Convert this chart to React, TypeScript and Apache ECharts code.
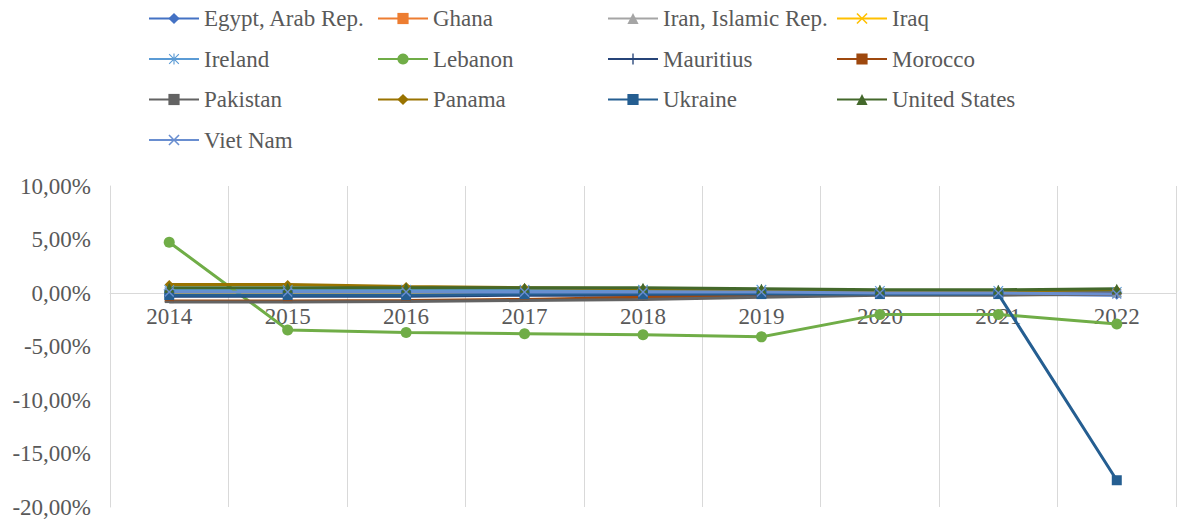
import React, { useEffect, useRef } from "react";
import * as echarts from "echarts";

const years = ["2014", "2015", "2016", "2017", "2018", "2019", "2020", "2021", "2022"];
const yTicks = { min: -20, max: 10, interval: 5 };

const egypt = [0.0, -0.1, -0.1, 0.0, 0.0, 0.0, -0.1, -0.1, -0.2];
const ghana = [-0.2, -0.2, -0.2, -0.1, -0.1, -0.1, 0.0, 0.0, 0.0];
const iran = [-0.1, -0.1, -0.1, -0.1, -0.1, -0.1, 0.0, 0.0, 0.0];
const iraq = [0.0, 0.0, 0.0, 0.0, 0.0, 0.0, 0.0, 0.0, 0.0];
const ireland = [0.3, 0.3, 0.3, 0.3, 0.3, 0.3, 0.2, 0.2, 0.1];
const lebanon = [4.75, -3.45, -3.7, -3.8, -3.9, -4.1, -2.0, -2.0, -2.9];
const mauritius = [-0.3, -0.3, -0.3, -0.2, -0.2, -0.1, 0.0, 0.0, 0.0];
const morocco = [-0.75, -0.75, -0.7, -0.6, -0.4, -0.3, -0.1, -0.1, -0.1];
const pakistan = [-0.85, -0.85, -0.8, -0.7, -0.6, -0.4, -0.2, -0.2, -0.1];
const panama = [0.8, 0.8, 0.6, 0.5, 0.4, 0.3, 0.2, 0.2, 0.3];
const ukraine = [-0.2, -0.2, -0.2, -0.1, -0.1, -0.1, -0.1, -0.1, -17.5];
const unitedStates = [0.5, 0.5, 0.5, 0.5, 0.5, 0.4, 0.3, 0.3, 0.4];
const vietNam = [0.1, 0.1, 0.1, 0.1, 0.1, 0.1, 0.0, 0.0, -0.1];

const X_PATH = "path://M0,1L1,0L5,4L9,0L10,1L6,5L10,9L9,10L5,6L1,10L0,9L4,5Z";
const PLUS_PATH = "path://M4.4,0H5.6V4.4H10V5.6H5.6V10H4.4V5.6H0V4.4H4.4Z";
const STAR_PATH =
  "path://M4.5,0H5.5V4.5H10V5.5H5.5V10H4.5V5.5H0V4.5H4.5Z M1,0.3L5,4.3L9,0.3L9.7,1L5.7,5L9.7,9L9,9.7L5,5.7L1,9.7L0.3,9L4.3,5L0.3,1Z";

const seriesDefs = [
  { name: "Egypt, Arab Rep.", data: egypt, color: "#4472C4", symbol: "diamond", size: 9 },
  { name: "Ghana", data: ghana, color: "#ED7D31", symbol: "rect", size: 8 },
  { name: "Iran, Islamic Rep.", data: iran, color: "#A5A5A5", symbol: "triangle", size: 9 },
  { name: "Iraq", data: iraq, color: "#FFC000", symbol: X_PATH, size: 9 },
  { name: "Ireland", data: ireland, color: "#5B9BD5", symbol: STAR_PATH, size: 11 },
  { name: "Lebanon", data: lebanon, color: "#70AD47", symbol: "circle", size: 11 },
  { name: "Mauritius", data: mauritius, color: "#264478", symbol: PLUS_PATH, size: 10 },
  { name: "Morocco", data: morocco, color: "#9E480E", symbol: "rect", size: [9, 2] },
  { name: "Pakistan", data: pakistan, color: "#636363", symbol: "rect", size: [9, 2] },
  { name: "Panama", data: panama, color: "#997300", symbol: "diamond", size: 9 },
  { name: "Ukraine", data: ukraine, color: "#255E91", symbol: "rect", size: 10 },
  { name: "United States", data: unitedStates, color: "#43682B", symbol: "triangle", size: 10 },
  { name: "Viet Nam", data: vietNam, color: "#698ED0", symbol: X_PATH, size: 10 },
];

const legendColumns = [
  ["Egypt, Arab Rep.", "Ireland", "Pakistan", "Viet Nam"],
  ["Ghana", "Lebanon", "Panama"],
  ["Iran, Islamic Rep.", "Mauritius", "Ukraine"],
  ["Iraq", "Morocco", "United States"],
];
const legendLefts = [143, 372, 602, 831];

const FONT = "'Liberation Serif', serif";

const GRID_TOP = 186;
const GRID_BOTTOM = 12;
const CHART_H = 519;

export default function App() {
  const ref = useRef<HTMLDivElement>(null);
  useEffect(() => {
    if (!ref.current) return;
    const chart = echarts.init(ref.current, undefined, { renderer: "svg" });
    const plotH = CHART_H - GRID_TOP - GRID_BOTTOM;
    const zeroFromBottom = (plotH * (0 - yTicks.min)) / (yTicks.max - yTicks.min);
    const legendText = { fontFamily: FONT, fontSize: 23, color: "#595959" };
    chart.setOption({
      animation: false,
      backgroundColor: "#ffffff",
      textStyle: { fontFamily: FONT },
      legend: legendColumns.map((col, i) => ({
        data: col,
        orient: "vertical",
        left: legendLefts[i],
        top: 2,
        itemWidth: 50,
        itemHeight: 14,
        itemGap: 17.5,
        textStyle: legendText,
        selectedMode: false,
      })),
      grid: {
        left: 110,
        right: 2,
        top: GRID_TOP,
        bottom: GRID_BOTTOM,
        containLabel: false,
        outerBoundsMode: "none",
      },
      xAxis: {
        type: "category",
        data: years,
        boundaryGap: true,
        position: "bottom",
        offset: -zeroFromBottom,
        axisTick: { show: false },
        axisLine: { onZero: false, lineStyle: { color: "#D9D9D9", width: 1 } },
        splitLine: { show: true, lineStyle: { color: "#D9D9D9", width: 1 } },
        axisLabel: { fontFamily: FONT, fontSize: 23, color: "#595959", margin: 12 },
      },
      yAxis: {
        type: "value",
        min: yTicks.min,
        max: yTicks.max,
        interval: yTicks.interval,
        axisLine: { show: true, lineStyle: { color: "#D9D9D9", width: 1 } },
        axisTick: { show: false },
        splitLine: { show: false },
        axisLabel: {
          fontFamily: FONT,
          fontSize: 23,
          color: "#595959",
          margin: 19,
          formatter: (v: number) => v.toFixed(2).replace(".", ",") + "%",
        },
      },
      series: seriesDefs.map((s) => ({
        name: s.name,
        type: "line",
        data: s.data,
        symbol: s.symbol,
        symbolSize: s.size,
        showAllSymbol: true,
        lineStyle: { color: s.color, width: 3 },
        itemStyle: { color: s.color },
      })),
    });
    return () => chart.dispose();
  }, []);
  return (
    <div
      ref={ref}
      style={{ position: "fixed", left: 0, top: 0, width: 1178, height: 519 }}
    />
  );
}
